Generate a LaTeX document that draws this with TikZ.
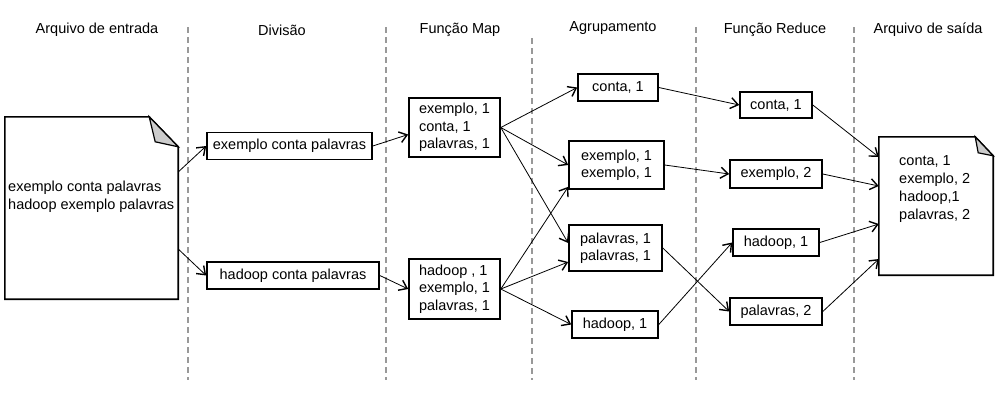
\documentclass[tikz,border=0pt]{standalone}
\usepackage{fontspec}
\setmainfont{Liberation Sans}
\usetikzlibrary{positioning,arrows.meta}

\tikzset{
  texto/.style={font=\fontsize{14.5}{17.5}\selectfont},
  caixa/.style={texto, draw, line width=1.6pt, minimum height=27pt, inner sep=2pt, align=left},
  seta/.style={-{Straight Barb[length=7.5pt,width=11pt,line width=1.4pt]}, line width=0.8pt},
  divisa/.style={draw=black!40, line width=1.5pt, dash pattern=on 6pt off 4pt},
  folha/.style={minimum width=#1, inner sep=0pt},
}

\begin{document}
\begin{tikzpicture}[x=1pt,y=-1pt]
    \useasboundingbox (0,0) rectangle (999,400);

    %% Titles and column separators
    \node[texto] (t1) at (97,30) {Arquivo de entrada};
    \node[texto] (t2) at (282,30) {Divisão};
    \node[texto] (t3) at (460,30) {Função Map};
    \node[texto] (t4) at (613,28) {Agrupamento};
    \node[texto] (t5) at (775,30) {Função Reduce};
    \node[texto] (t6) at (928,30) {Arquivo de saída};
    \foreach \x/\y in {188/27,386/27,532/38,696/27,854/27}
        \draw[divisa] (\x,\y) -- (\x,380);

    %% Input file
    \node[folha=173pt, minimum height=182pt] (entrada) at (91.5,208) {};
    \draw[line width=1.6pt] (entrada.south west) -- (entrada.north west)
        -- ([xshift=-29pt]entrada.north east) -- ([yshift=-30pt]entrada.north east)
        -- (entrada.south east) -- cycle;
    \filldraw[fill=black!20, line width=1.2pt] ([xshift=-29pt]entrada.north east)
        -- ([xshift=-23pt,yshift=-25pt]entrada.north east) -- ([yshift=-30pt]entrada.north east) -- cycle;
    \node[texto, anchor=west, align=left, inner sep=0pt] (txtentrada) at (8,196.5)
        {exemplo conta palavras\\hadoop exemplo palavras};

    %% Split
    \node[caixa, minimum width=165pt] (div1) at (289.5,146) {exemplo conta palavras};
    \node[caixa, minimum width=172pt] (div2) at (293,275.5) {hadoop conta palavras};

    %% Map
    \node[caixa, minimum width=91pt, minimum height=59pt] (map1) at (454.5,127.5) {exemplo, 1\\conta, 1\\palavras, 1};
    \node[caixa, minimum width=91pt, minimum height=60pt] (map2) at (454.5,289) {hadoop , 1\\exemplo, 1\\palavras, 1};

    %% Grouping
    \node[caixa, minimum width=80pt] (conta) at (618,87.5) {conta, 1};
    \node[caixa, minimum width=95pt, minimum height=48pt] (exemplo) at (616.5,165) {exemplo, 1\\exemplo, 1};
    \node[caixa, minimum width=93pt, minimum height=46pt] (palavras) at (615.5,248) {palavras, 1\\palavras, 1};
    \node[caixa, minimum width=86pt] (hadoop) at (615,324.5) {hadoop, 1};

    %% Reduce
    \node[caixa, minimum width=72pt, minimum height=26pt] (rconta) at (776,105) {conta, 1};
    \node[caixa, minimum width=92pt, minimum height=28pt] (rexemplo) at (776,174) {exemplo, 2};
    \node[caixa, minimum width=86pt] (rhadoop) at (776,242.5) {hadoop, 1};
    \node[caixa, minimum width=92pt] (rpalavras) at (776,311.5) {palavras, 2};

    %% Output file
    \node[folha=114pt, minimum height=138pt] (saida) at (936,206) {};
    \draw[line width=1.6pt] (saida.south west) -- (saida.north west)
        -- ([xshift=-18pt]saida.north east) -- ([yshift=-19pt]saida.north east)
        -- (saida.south east) -- cycle;
    \filldraw[fill=black!20, line width=1.2pt] ([xshift=-18pt]saida.north east)
        -- ([xshift=-15pt,yshift=-16pt]saida.north east) -- ([yshift=-19pt]saida.north east) -- cycle;
    \node[texto, anchor=west, align=left, inner sep=0pt, font=\fontsize{14.5}{18}\selectfont] (txtsaida) at (899,189)
        {conta, 1\\exemplo, 2\\hadoop,1\\palavras, 2};

    %% Connectors
    \draw[seta] ([yshift=36pt]entrada.east) -- (div1.west);
    \draw[seta] ([yshift=-41pt]entrada.east) -- (div2.west);
    \draw[seta] (div1.east) -- ([yshift=-7pt]map1.west);
    \draw[seta] (div2.east) -- (map2.west);

    \draw[seta] (map1.east) -- (conta.west);
    \draw[seta] (map1.east) -- (exemplo.west);
    \draw[seta] (map1.east) -- ([yshift=5pt]palavras.west);
    \draw[seta] (map2.east) -- ([yshift=3pt]exemplo.south west);
    \draw[seta] (map2.east) -- ([yshift=-14pt]palavras.west);
    \draw[seta] (map2.east) -- (hadoop.west);

    \draw[seta] (conta.east) -- (rconta.west);
    \draw[seta] (exemplo.east) -- (rexemplo.west);
    \draw[seta] (palavras.east) -- (rpalavras.west);
    \draw[seta] (hadoop.east) -- (rhadoop.west);

    \draw[seta] (rconta.east) -- ([yshift=49pt]saida.west);
    \draw[seta] (rexemplo.east) -- ([yshift=20pt]saida.west);
    \draw[seta] (rhadoop.east) -- ([yshift=-18pt]saida.west);
    \draw[seta] (rpalavras.east) -- ([yshift=-53pt]saida.west);
\end{tikzpicture}
\end{document}
